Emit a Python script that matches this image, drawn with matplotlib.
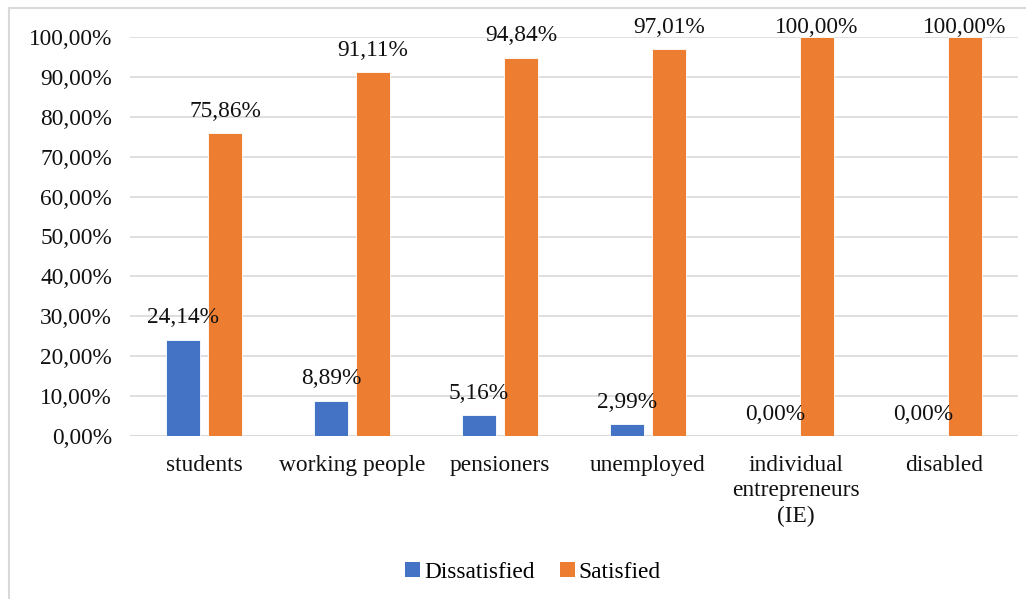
import matplotlib.pyplot as plt
from matplotlib.patches import Patch, Rectangle
from matplotlib.ticker import FuncFormatter, MultipleLocator

categories = [
    "students",
    "working people",
    "pensioners",
    "unemployed",
    "individual\nentrepreneurs\n(IE)",
    "disabled",
]
dissatisfied = [24.14, 8.89, 5.16, 2.99, 0.00, 0.00]
satisfied = [75.86, 91.11, 94.84, 97.01, 100.00, 100.00]

BLUE = "#4472C4"
ORANGE = "#ED7D31"
GRID = "#D9D9D9"
TEXT = "#111111"
FONT = "Liberation Serif"
SIZE = 16.8
W, H = 1026, 599


def pct(value):
    return f"{value:.2f}%".replace(".", ",")


plt.rcParams["font.family"] = FONT
fig = plt.figure(figsize=(W / 100, H / 100), dpi=100)
ax = fig.add_axes([130 / W, 1 - 436 / H, (1018 - 130) / W, (436 - 37) / H])

# chart frame (right and bottom edges fall outside the canvas)
fig.patches.append(
    Rectangle((9 / W, -0.05), 1.1, 1 - 8 / H + 0.05, transform=fig.transFigure,
              fill=False, edgecolor=GRID, linewidth=1.5)
)

x = list(range(len(categories)))
width = 0.225
offset = 0.142
ax.bar([i - offset for i in x], dissatisfied, width, color=BLUE,
       edgecolor="white", linewidth=0.6, zorder=2)
ax.bar([i + offset for i in x], satisfied, width, color=ORANGE,
       edgecolor="white", linewidth=0.6, zorder=2)

# value labels sit above each bar, capped at the top of the chart
for i, (d, s) in enumerate(zip(dissatisfied, satisfied)):
    ax.text(i - offset, min(d + 5.5, 102.5), pct(d), ha="center", va="center",
            fontsize=SIZE, color=TEXT, zorder=3, clip_on=False)
    ax.text(i + offset, min(s + 5.5, 102.5), pct(s), ha="center", va="center",
            fontsize=SIZE, color=TEXT, zorder=3, clip_on=False)

ax.set_xlim(-0.5, len(categories) - 0.5)
ax.set_ylim(0, 100)
ax.yaxis.set_major_locator(MultipleLocator(10))
ax.yaxis.set_major_formatter(FuncFormatter(lambda v, _: pct(v)))
ax.set_xticks(x)
ax.set_xticklabels(categories, linespacing=1.25)
ax.tick_params(axis="both", length=0, labelsize=SIZE, labelcolor=TEXT)
ax.tick_params(axis="x", pad=14)
ax.tick_params(axis="y", pad=13)
ax.yaxis.grid(True, color=GRID, linewidth=1.2, zorder=0)
ax.set_axisbelow(True)
for spine in ax.spines.values():
    spine.set_visible(False)
ax.axhline(0, color=GRID, linewidth=1.5, zorder=1)

handles = [Patch(facecolor=BLUE, label="Dissatisfied"),
           Patch(facecolor=ORANGE, label="Satisfied")]
fig.legend(handles=handles, loc="center", bbox_to_anchor=(533 / W, 1 - 572 / H),
           ncol=2, frameon=False, fontsize=SIZE, handlelength=0.65,
           handleheight=0.65, handletextpad=0.15, columnspacing=1.1)

fig.savefig("out.png", dpi=100)
